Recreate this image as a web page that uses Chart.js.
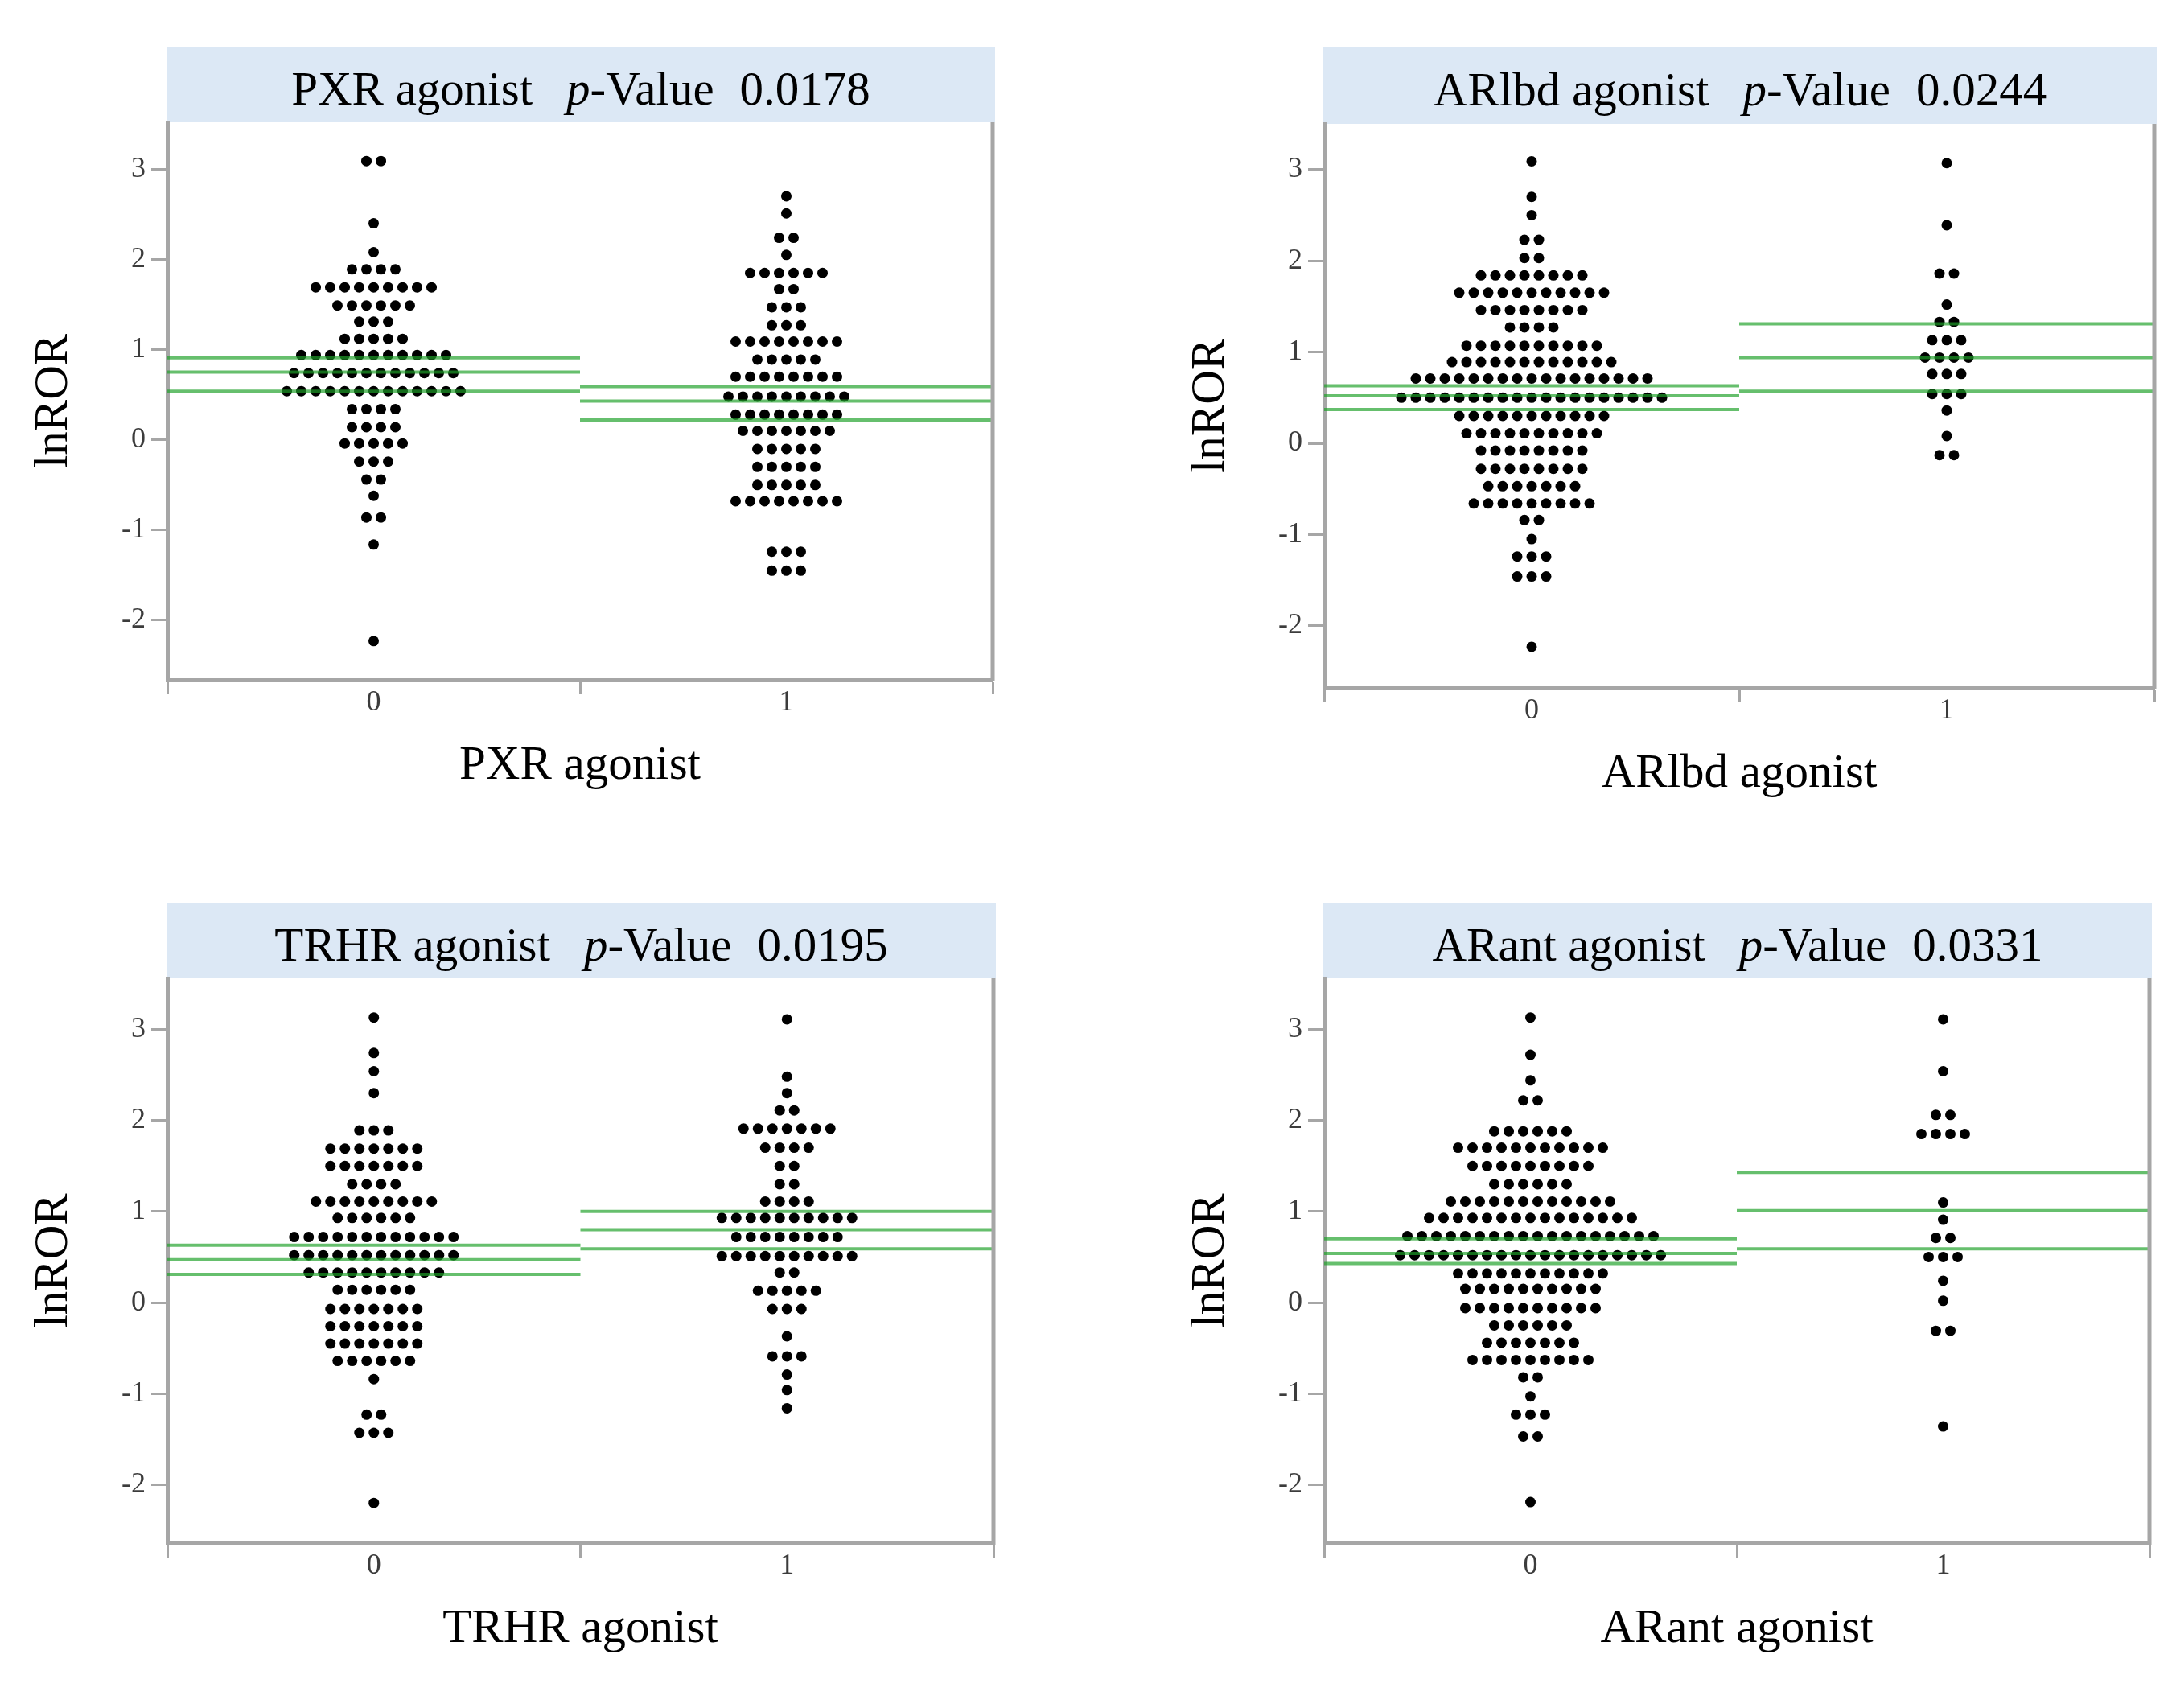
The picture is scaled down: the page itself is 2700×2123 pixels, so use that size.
<!DOCTYPE html>
<html>
<head>
<meta charset="utf-8">
<script src="https://cdn.jsdelivr.net/npm/chart.js@4.4.1/dist/chart.umd.min.js"></script>
<style>
  html, body { margin: 0; padding: 0; background: #fff; overflow: hidden; }
  body { width: 2700px; height: 2123px; position: relative; font-family: 'Liberation Serif', serif; }
  canvas { position: absolute; }
  .head { position: absolute; box-sizing: border-box; background: #dce8f5; text-align: center;
          font-size: 59px; color: #000; padding-top: 10px; white-space: nowrap; }
  .head .pv { margin-left: 42px; }
  .head .num { margin-left: 32px; }
</style>
</head>
<body>
<script>
Chart.defaults.font.family = "'Liberation Serif', serif";

const categories = ['0', '1'];
const yTicks = [-2, -1, 0, 1, 2, 3];
const xTickValues = [-0.5, 0, 0.5, 1, 1.5];

const panelNames = ['PXR agonist', 'ARlbd agonist', 'TRHR agonist', 'ARant agonist'];
const pValues = ['0.0178', '0.0244', '0.0195', '0.0331'];

// PXR agonist: lnROR levels of the dots and how many dots sit on each level
const pxrLevels0 = [3.09, 2.40, 2.08, 1.89, 1.69, 1.49, 1.31, 1.12, 0.94, 0.74, 0.54, 0.34, 0.14, -0.04, -0.24, -0.44, -0.62, -0.86, -1.16, -2.23];
const pxrCounts0 = [2, 1, 1, 4, 9, 6, 3, 5, 11, 12, 13, 4, 4, 5, 3, 2, 1, 2, 1, 1];
const pxrLevels1 = [2.70, 2.51, 2.24, 2.05, 1.85, 1.67, 1.47, 1.27, 1.09, 0.89, 0.70, 0.48, 0.28, 0.10, -0.10, -0.30, -0.50, -0.68, -1.24, -1.45];
const pxrCounts1 = [1, 1, 2, 1, 6, 2, 3, 3, 8, 5, 8, 9, 8, 7, 5, 5, 5, 8, 3, 3];
const pxrLines0 = [0.91, 0.75, 0.54];
const pxrLines1 = [0.59, 0.43, 0.22];

// ARlbd agonist
const arlbdLevels0 = [3.09, 2.70, 2.50, 2.23, 2.03, 1.84, 1.65, 1.46, 1.27, 1.07, 0.89, 0.71, 0.50, 0.30, 0.11, -0.08, -0.28, -0.47, -0.66, -0.84, -1.05, -1.24, -1.46, -2.23];
const arlbdCounts0 = [1, 1, 1, 2, 2, 8, 11, 8, 4, 10, 12, 17, 19, 11, 10, 8, 8, 7, 9, 2, 1, 3, 3, 1];
const arlbdLevels1 = [3.07, 2.39, 1.86, 1.52, 1.33, 1.13, 0.94, 0.76, 0.54, 0.36, 0.08, -0.13];
const arlbdCounts1 = [1, 1, 2, 1, 2, 3, 4, 3, 3, 1, 1, 2];
const arlbdLines0 = [0.63, 0.52, 0.37];
const arlbdLines1 = [1.31, 0.94, 0.57];

// TRHR agonist
const trhrLevels0 = [3.13, 2.74, 2.54, 2.30, 1.89, 1.69, 1.50, 1.30, 1.11, 0.93, 0.72, 0.52, 0.33, 0.14, -0.07, -0.26, -0.45, -0.64, -0.84, -1.23, -1.43, -2.20];
const trhrCounts0 = [1, 1, 1, 1, 3, 7, 7, 4, 9, 6, 12, 12, 10, 6, 7, 7, 7, 6, 1, 2, 3, 1];
const trhrLevels1 = [3.11, 2.48, 2.30, 2.11, 1.91, 1.70, 1.50, 1.30, 1.11, 0.93, 0.72, 0.51, 0.33, 0.13, -0.07, -0.37, -0.59, -0.79, -0.96, -1.16];
const trhrCounts1 = [1, 1, 1, 2, 7, 4, 2, 2, 4, 10, 8, 10, 2, 5, 3, 1, 3, 1, 1, 1];
const trhrLines0 = [0.63, 0.47, 0.31];
const trhrLines1 = [1.00, 0.80, 0.59];

// ARant agonist
const arantLevels0 = [3.13, 2.72, 2.44, 2.22, 1.88, 1.70, 1.50, 1.30, 1.11, 0.93, 0.73, 0.52, 0.32, 0.15, -0.06, -0.25, -0.44, -0.63, -0.82, -1.03, -1.23, -1.47, -2.19];
const arantCounts0 = [1, 1, 1, 2, 6, 11, 9, 6, 12, 15, 18, 19, 11, 10, 10, 6, 7, 9, 2, 1, 3, 2, 1];
const arantLevels1 = [3.11, 2.54, 2.06, 1.85, 1.10, 0.91, 0.71, 0.50, 0.24, 0.02, -0.31, -1.36];
const arantCounts1 = [1, 1, 2, 4, 1, 1, 2, 3, 1, 1, 2, 1];
const arantLines0 = [0.70, 0.54, 0.43];
const arantLines1 = [1.43, 1.01, 0.59];

const panels = [
  {levels: [pxrLevels0, pxrLevels1], counts: [pxrCounts0, pxrCounts1], lines: [pxrLines0, pxrLines1]},
  {levels: [arlbdLevels0, arlbdLevels1], counts: [arlbdCounts0, arlbdCounts1], lines: [arlbdLines0, arlbdLines1]},
  {levels: [trhrLevels0, trhrLevels1], counts: [trhrCounts0, trhrCounts1], lines: [trhrLines0, trhrLines1]},
  {levels: [arantLevels0, arantLevels1], counts: [arantCounts0, arantCounts1], lines: [arantLines0, arantLines1]}
];

// page placement of each plot frame (px) and its y range
const frames = [
  {left: 208, right: 1234, top: 152, bottom: 845, headTop: 58, ymin: -2.66, ymax: 3.52},
  {left: 1646, right: 2678, top: 154, bottom: 855, headTop: 58, ymin: -2.68, ymax: 3.50},
  {left: 208, right: 1235, top: 1216, bottom: 1918, headTop: 1123, ymin: -2.64, ymax: 3.56},
  {left: 1646, right: 2672, top: 1216, bottom: 1918, headTop: 1123, ymin: -2.64, ymax: 3.56}
];

const GRAY = '#a6a6a6';
const GREEN = 'rgba(30,160,40,0.68)';
const AXIS_W = 208;
const X_AXIS_H = 200;
const PAD_TOP = 50;
const PAD_RIGHT = 40;
const DOT_GAP = 18;   // px between neighbouring dots in a row

// right edge of the frame
const rightEdge = {
  id: 'rightEdge',
  afterDraw(chart) {
    const {ctx, chartArea: a} = chart;
    ctx.save();
    ctx.strokeStyle = GRAY;
    ctx.lineWidth = 5;
    ctx.beginPath();
    ctx.moveTo(a.right, a.top);
    ctx.lineTo(a.right, a.bottom + 2);
    ctx.stroke();
    ctx.restore();
  }
};

function swarm(levels, counts, center, step) {
  const pts = [];
  levels.forEach((y, i) => {
    const n = counts[i];
    for (let j = 0; j < n; j++) {
      pts.push({x: center + (j - (n - 1) / 2) * step, y: y});
    }
  });
  return pts;
}

panels.forEach((p, k) => {
  const f = frames[k];
  const plotW = f.right - f.left;

  // header box with the test name and p-value
  const head = document.createElement('div');
  head.className = 'head';
  head.style.left = (f.left - 1) + 'px';
  head.style.top = f.headTop + 'px';
  head.style.width = (plotW + 4) + 'px';
  head.style.height = (f.top - f.headTop) + 'px';
  head.style.lineHeight = (f.top - f.headTop - 10) + 'px';
  head.innerHTML = panelNames[k] + '<span class="pv"><i>p</i>-Value</span><span class="num">' + pValues[k] + '</span>';
  document.body.appendChild(head);

  const canvas = document.createElement('canvas');
  const cw = AXIS_W + plotW + PAD_RIGHT;
  const ch = PAD_TOP + (f.bottom - f.top) + X_AXIS_H;
  canvas.width = cw;
  canvas.height = ch;
  canvas.style.width = cw + 'px';
  canvas.style.height = ch + 'px';
  canvas.style.left = (f.left - AXIS_W) + 'px';
  canvas.style.top = (f.top - PAD_TOP) + 'px';
  document.body.appendChild(canvas);

  const step = DOT_GAP / (plotW / 2);
  const datasets = [];
  [0, 1].forEach(g => {
    p.lines[g].forEach(v => {
      datasets.push({
        data: [{x: g - 0.5, y: v}, {x: g + 0.5, y: v}],
        showLine: true,
        borderColor: GREEN,
        borderWidth: 4,
        pointRadius: 0,
        order: 0
      });
    });
    datasets.push({
      data: swarm(p.levels[g], p.counts[g], g, step),
      backgroundColor: '#000',
      borderWidth: 0,
      pointRadius: 6.5,
      order: 1
    });
  });

  new Chart(canvas, {
    type: 'scatter',
    data: {datasets: datasets},
    options: {
      responsive: false,
      animation: false,
      devicePixelRatio: 1,
      layout: {padding: {left: 0, top: PAD_TOP, right: PAD_RIGHT, bottom: 0}},
      plugins: {legend: {display: false}, tooltip: {enabled: false}},
      scales: {
        x: {
          type: 'linear',
          min: -0.5,
          max: 1.5,
          afterFit: s => { s.height = X_AXIS_H; },
          afterBuildTicks: s => { s.ticks = xTickValues.map(v => ({value: v})); },
          border: {color: GRAY, width: 5},
          grid: {
            drawOnChartArea: false,
            tickLength: 18,
            tickWidth: 3,
            tickColor: c => (c.tick && Number.isInteger(c.tick.value)) ? 'rgba(0,0,0,0)' : GRAY
          },
          ticks: {
            color: '#3c3c3c',
            font: {size: 36, lineHeight: 1},
            padding: -7,
            autoSkip: false,
            maxRotation: 0,
            callback: v => Number.isInteger(v) ? categories[v] : ''
          },
          title: {display: true, text: panelNames[k], color: '#000',
                  font: {size: 59, lineHeight: 1}, padding: {top: 0, bottom: 63}}
        },
        y: {
          min: f.ymin,
          max: f.ymax,
          afterFit: s => { s.width = AXIS_W; },
          afterBuildTicks: s => { s.ticks = yTicks.map(v => ({value: v})); },
          border: {color: GRAY, width: 5},
          grid: {drawOnChartArea: false, tickLength: 20, tickWidth: 3, tickColor: GRAY},
          ticks: {color: '#3c3c3c', font: {size: 36}, padding: 7},
          title: {display: true, text: 'lnROR', color: '#000',
                  font: {size: 59, lineHeight: 1}, padding: {top: 38, bottom: 0}}
        }
      }
    },
    plugins: [rightEdge]
  });
});
</script>
</body>
</html>
